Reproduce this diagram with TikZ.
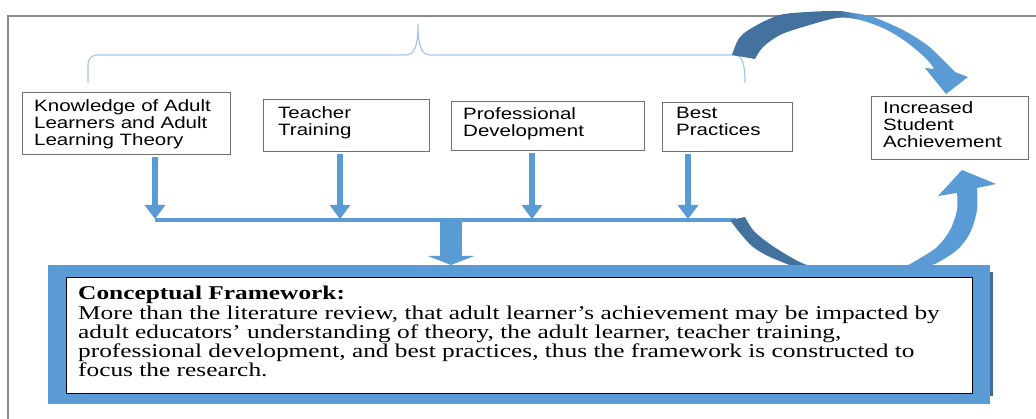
\documentclass[tikz,border=0pt]{standalone}
\usepackage{fontspec}
\newfontfamily\boxfont[FakeStretch=1.25]{Liberation Sans}
\newfontfamily\notefont[FakeStretch=1.3]{Liberation Serif}
\usetikzlibrary{arrows.meta,calc}
\definecolor{ltb}{HTML}{5B9BD5}
\definecolor{dkb}{HTML}{44729F}
\definecolor{brc}{HTML}{A5C8E8}
\definecolor{frm}{HTML}{8A8A8A}
\definecolor{bxl}{HTML}{707070}
\definecolor{shd}{HTML}{3E6C99}
% dark back face turning into the light front face of the curved arrows
\pgfdeclarehorizontalshading{topswoosh}{100bp}{color(0bp)=(dkb); color(48bp)=(dkb); color(52bp)=(ltb); color(100bp)=(ltb)}
\pgfdeclarehorizontalshading{botswoosh}{100bp}{color(0bp)=(dkb); color(45bp)=(dkb); color(52bp)=(ltb); color(100bp)=(ltb)}

\begin{document}
\begin{tikzpicture}[x=1pt,y=-1pt,
  boxframe/.style={draw=bxl,line width=1pt,fill=white,inner sep=0pt,anchor=north west},
  boxtext/.style={font=\boxfont\fontsize{16.4}{17}\selectfont,align=left,anchor=north west,inner sep=0pt},
  feeder/.style={ltb,line width=6pt,shorten <=2pt,-{Triangle[width=20pt,length=14pt]}},
  swoosh/.style={smooth,tension=0.55}
]
\useasboundingbox (0,0) rectangle (1036,419);
\fill[white] (0,0) rectangle (1036,419);

% page frame
\draw[frm,line width=1.2pt] (8,419) -- (8,16) -- (1036,16);

% brace over the four inputs
\draw[brc,line width=1.2pt]
  (88,83) -- (88,66) .. controls (88,58) and (91,55) .. (99,55) -- (405,55)
  .. controls (414,55) and (418,48) .. (418,24)
  .. controls (418,48) and (422,55) .. (431,55) -- (733,55)
  .. controls (741,55) and (745,60) .. (745,83);

% input boxes
\node[boxframe,minimum width=208pt,minimum height=62pt] (k) at (22,92) {};
\node[boxtext] (kt) at ($(k.north west)+(12,7.5)$) {Knowledge of Adult\\Learners and Adult\\Learning Theory};
\node[boxframe,minimum width=166pt,minimum height=52pt] (t) at (263,99) {};
\node[boxtext] (tt) at ($(t.north west)+(15,7.5)$) {Teacher\\Training};
\node[boxframe,minimum width=193pt,minimum height=49pt] (p) at (451,101) {};
\node[boxtext] (pt) at ($(p.north west)+(12,6.5)$) {Professional\\Development};
\node[boxframe,minimum width=130pt,minimum height=49pt] (b) at (662,102) {};
\node[boxtext] (bt) at ($(b.north west)+(14,5.5)$) {Best\\Practices};
\node[boxframe,minimum width=157pt,minimum height=63pt] (s) at (871,96) {};
\node[boxtext] (st) at ($(s.north west)+(12,5.5)$) {Increased\\Student\\Achievement};

% collecting bus
\coordinate (b1) at (155,219);
\coordinate (b2) at (340,219);
\coordinate (b3) at (532,219);
\coordinate (b4) at (688,219);
\coordinate (bj) at (451,220);
\coordinate (be) at (736,220);
\draw[ltb,line width=4pt] (b1 |- be) -- (be);
\draw[feeder] (b1 |- k.south) -- (b1);
\draw[feeder] (b2 |- t.south) -- (b2);
\draw[feeder] (b3 |- p.south) -- (b3);
\draw[feeder] (b4 |- b.south) -- (b4);

% lower curved arrow (runs behind the framework panel)
\shade[shading=botswoosh]
  plot[swoosh] coordinates {(730,220) (740,233) (753,247) (770,257) (797,268) (830,282) (870,285) (905,278) (927,267) (937,263) (957,250) (970,233) (977,210) (977,188)}
  -- (996,184) -- (962,170) -- (938,196)
  -- plot[swoosh] coordinates {(957,193) (957,210) (950,230) (937,247) (917,260) (903,267) (875,273) (840,273) (807,265) (787,255) (767,242) (753,230) (745,217)}
  -- cycle;

% upper curved arrow
\shade[shading=topswoosh]
  plot[swoosh] coordinates {(732,55) (740,37) (757,25) (780,15) (807,12) (837,11) (853,13) (873,17) (903,30) (927,45) (943,60) (955,72)}
  -- (968,77) -- (946,94) -- (925,68)
  -- plot[swoosh] coordinates {(934,69) (930,63) (920,53) (905,41) (885,29) (860,20) (837,18) (803,27) (780,35) (763,47) (755,59)}
  -- cycle;

% framework panel
\node[fill=ltb,inner sep=0pt,anchor=north west,minimum width=942pt,minimum height=139pt] (cf) at (48,265) {};
\fill[shd] ($(cf.north east)+(0,7)$) rectangle ($(cf.south east)+(3,-8)$);
\node[fill=white,draw=black,line width=0.8pt,inner sep=0pt,anchor=north west,minimum width=906pt,minimum height=116pt] (cfi) at (66,277) {};
\node[font=\notefont\fontsize{19.5}{19.3}\selectfont,align=left,anchor=north west,inner sep=0pt] (cft) at (78,286)
  {\textbf{Conceptual Framework:}\\
   More than the literature review, that adult learner’s achievement may be impacted by\\
   adult educators’ understanding of theory, the adult learner, teacher training,\\
   professional development, and best practices, thus the framework is constructed to\\
   focus the research.};

% arrow into the panel
\draw[ltb,line width=22pt,-{Triangle[width=46pt,length=9pt]}] (bj) -- (bj |- cf.north);
\end{tikzpicture}
\end{document}
